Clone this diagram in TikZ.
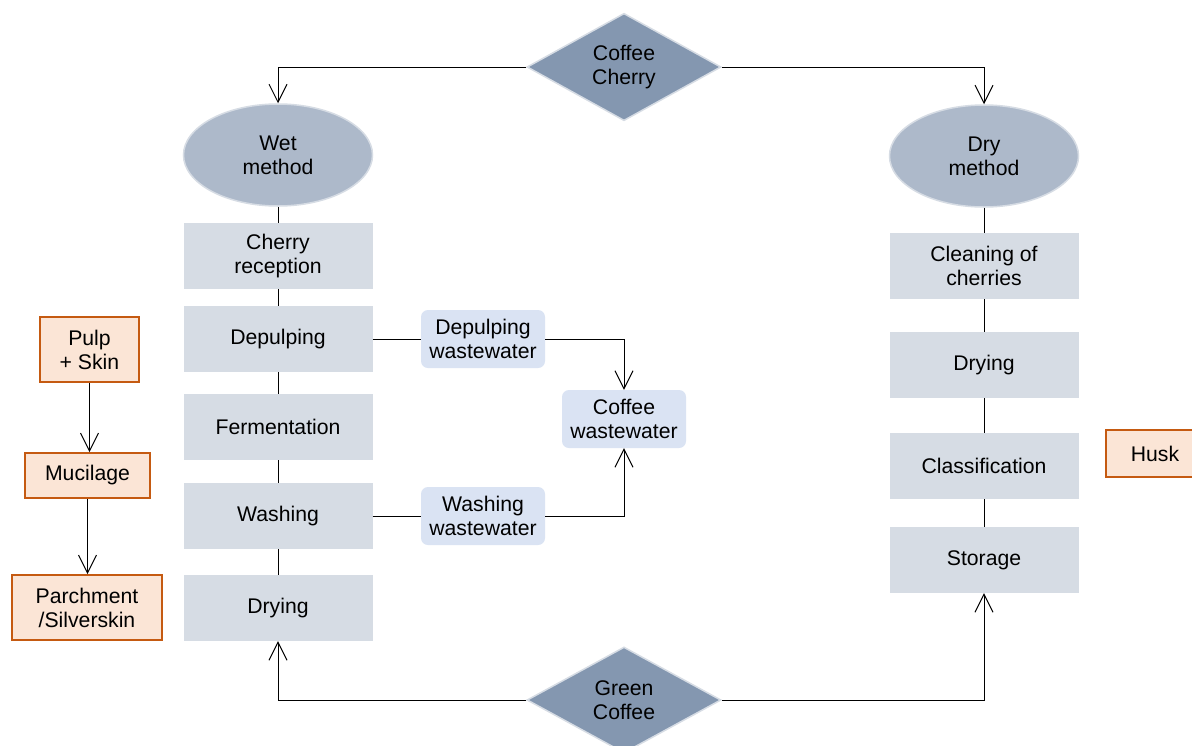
\documentclass[tikz,border=0pt]{standalone}
\usepackage{fontspec}
\setmainfont{Liberation Sans}
\usetikzlibrary{shapes.geometric,arrows.meta}
\definecolor{diafill}{HTML}{8497B0}
\definecolor{ellfill}{HTML}{ADB9CA}
\definecolor{lightedge}{HTML}{D6DCE4}
\definecolor{boxfill}{HTML}{D6DCE4}
\definecolor{orfill}{HTML}{FBE5D6}
\definecolor{oredge}{HTML}{C55A11}
\definecolor{bluefill}{HTML}{DAE3F3}
\tikzset{
  every node/.style={font=\fontsize{21.2}{24}\selectfont, align=center, inner sep=0pt},
  dia/.style={diamond, fill=diafill, draw=lightedge, line width=1.5pt, minimum width=194pt, minimum height=106pt},
  ell/.style={ellipse, fill=ellfill, draw=lightedge, line width=1.5pt, minimum width=189pt, minimum height=102pt},
  stepbox/.style={rectangle, fill=boxfill, minimum width=189pt, minimum height=66pt},
  orbox/.style={rectangle, fill=orfill, draw=oredge, line width=1.6pt},
  wwbox/.style={rectangle, rounded corners=7pt, fill=bluefill, minimum width=124pt, minimum height=58pt},
  conn/.style={draw=black, line width=1pt},
  arr/.style={conn, -{Straight Barb[length=18pt,width=18pt,line width=1pt]}},
}
\begin{document}
\begin{tikzpicture}[x=1pt,y=-1pt]
\useasboundingbox[fill=white] (0,0) rectangle (1192,745);
% diamonds
\node[dia] (cc) at (624,67) {Coffee\\Cherry};
\node[dia] (gc) at (624,700) {Green\\Coffee};
% ellipses
\node[ell] (wet) at (278,155) {Wet\\method};
\node[ell] (dry) at (984,156) {Dry\\method};
% wet steps
\node[stepbox] (cr) at (278,256) {Cherry\\reception};
\node[stepbox] (dp) at (278,339) {Depulping};
\node[stepbox] (fe) at (278,427) {Fermentation};
\node[stepbox] (wa) at (278,516) {Washing};
\node[stepbox] (wd) at (278,608) {Drying};
% dry steps
\node[stepbox] (cl) at (984,266) {Cleaning of\\cherries};
\node[stepbox] (dd) at (984,365) {Drying};
\node[stepbox] (cs) at (984,466) {Classification};
\node[stepbox] (st) at (984,560) {Storage};
% wastewater
\node[wwbox] (dw) at (483,339) {Depulping\\wastewater};
\node[wwbox] (ww) at (483,516) {Washing\\wastewater};
\node[wwbox] (cw) at (624,419) {Coffee\\wastewater};
% by-products
\node[orbox, minimum width=99pt, minimum height=65pt] (ps) at (89.5,349.5) {Pulp\\+ Skin};
\node[orbox, minimum width=125pt, minimum height=45pt] (mu) at (87.5,475.5) {Mucilage};
\node[orbox, minimum width=150pt, minimum height=65pt] (pa) at (87,607.5) {Parchment\\/Silverskin};
\node[orbox, minimum width=98pt, minimum height=47pt] (hu) at (1155,453.5) {Husk};
% connectors
\draw[arr] (cc.west) -| (wet.north);
\draw[arr] (cc.east) -| (dry.north);
\draw[conn] (wet.south) -- (cr.north);
\draw[conn] (cr.south) -- (dp.north);
\draw[conn] (dp.south) -- (fe.north);
\draw[conn] (fe.south) -- (wa.north);
\draw[conn] (wa.south) -- (wd.north);
\draw[conn] (dry.south) -- (cl.north);
\draw[conn] (cl.south) -- (dd.north);
\draw[conn] (dd.south) -- (cs.north);
\draw[conn] (cs.south) -- (st.north);
\draw[conn] (dp.east) -- (dw.west);
\draw[conn] (wa.east) -- (ww.west);
\draw[arr] (dw.east) -| (cw.north);
\draw[arr] (ww.east) -| (cw.south);
\draw[arr] (gc.west) -| (wd.south);
\draw[arr] (gc.east) -| (st.south);
\draw[arr] (ps.south) -- (ps.south |- mu.north);
\draw[arr] (mu.south) -- (mu.south |- pa.north);
\end{tikzpicture}
\end{document}
